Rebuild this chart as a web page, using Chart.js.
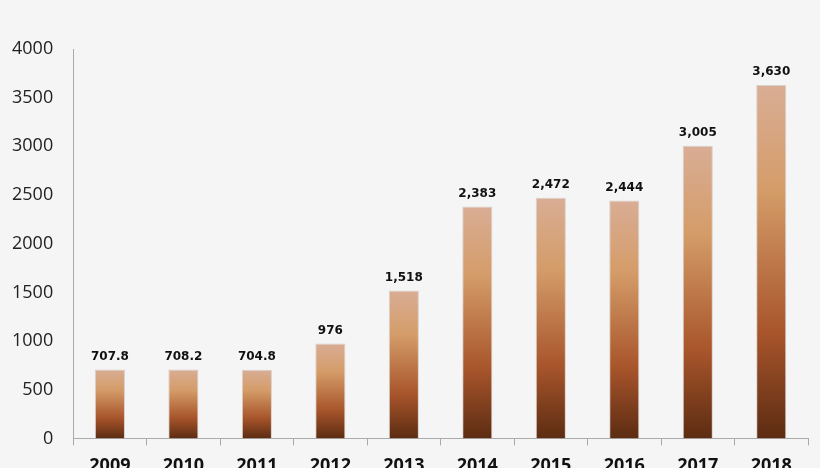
<!DOCTYPE html>
<html><head><script src="https://cdn.jsdelivr.net/npm/chart.js"></script>
<style>html,body{margin:0;padding:0;background:#f5f5f5;overflow:hidden;width:820px;height:468px}#w{width:820px;height:510px}</style></head>
<body><div id="w"><canvas id="c"></canvas></div>
<script>
const categories = ["2009","2010","2011","2012","2013","2014","2015","2016","2017","2018"];
const values = [707.8, 708.2, 704.8, 976, 1518, 2383, 2472, 2444, 3005, 3630];
const valueLabels = ["707.8","708.2","704.8","976","1,518","2,383","2,472","2,444","3,005","3,630"];
const yTicks = [0,500,1000,1500,2000,2500,3000,3500,4000];

const labelPlugin = {id:'lbl', afterDatasetsDraw(chart){
  const ctx = chart.ctx, meta = chart.getDatasetMeta(0);
  ctx.save(); ctx.font='bold 12px "DejaVu Sans"'; ctx.fillStyle='#111'; ctx.textAlign='center'; ctx.textBaseline='bottom';
  meta.data.forEach((b,i)=>ctx.fillText(valueLabels[i], b.x, b.y-7));
  ctx.restore();
}};
new Chart(document.getElementById('c'), {
  type:'bar',
  data:{labels:categories, datasets:[{data:values,
    backgroundColor(ctx){
      const ch = ctx.chart, ys = ch.scales.y; if(!ys || !ch.chartArea) return '#b06030';
      const top = ys.getPixelForValue(ctx.raw), bot = ys.getPixelForValue(0);
      const g = ch.ctx.createLinearGradient(0, top, 0, bot);
      g.addColorStop(0,'#d9ad95'); g.addColorStop(0.3,'#d49c68'); g.addColorStop(0.7,'#a8552b'); g.addColorStop(1,'#5c2c12');
      return g;
    }, borderColor:'#d8d0cc', borderWidth:1, barPercentage:0.41, categoryPercentage:1}]},
  options:{responsive:true, maintainAspectRatio:false, animation:false,
    layout:{padding:{left:0,right:12,top:49,bottom:23}},
    plugins:{legend:{display:false}, tooltip:{enabled:false}},
    scales:{
      x:{grid:{display:true, drawOnChartArea:false, drawTicks:true, tickLength:7, color:'#aaa', offset:true},
         border:{color:'#aaa'},
         ticks:{color:'#111', font:{size:18, family:'"Open Sans"', weight:'bold'}, padding:10, maxRotation:0}},
      y:{min:0, max:4000, afterBuildTicks(s){s.ticks = yTicks.map(v=>({value:v}));},
         grid:{display:false}, border:{color:'#aaa'},
         ticks:{color:'#222', font:{size:18, family:'"Open Sans"'}, padding:12, callback:v=>String(v)}}
    }},
  plugins:[labelPlugin]
});
</script></body></html>
